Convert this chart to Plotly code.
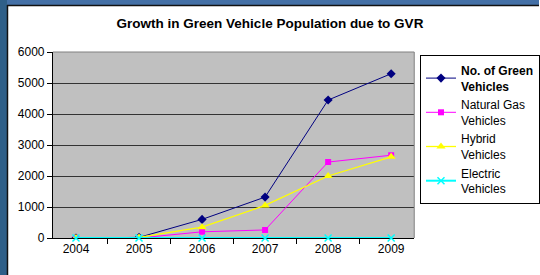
import plotly.graph_objects as go

years = ["2004", "2005", "2006", "2007", "2008", "2009"]
total = [0, 20, 600, 1320, 4450, 5300]
natural_gas = [0, 0, 200, 260, 2450, 2670]
hybrid = [0, 20, 350, 1050, 2000, 2620]
electric = [0, 0, 0, 0, 0, 0]
y_ticks = [0, 1000, 2000, 3000, 4000, 5000, 6000]

W, H = 540, 275
PL, PR, PT, PB = 53, 415, 52, 238  # plot area in pixels


def px(x):
    return x / W


def py(y):
    return 1 - y / H


fig = go.Figure()
fig.add_trace(go.Scatter(x=years, y=total, mode="lines+markers",
                         name="<b>No. of Green<br>Vehicles</b>",
                         line=dict(color="#000080", width=1),
                         marker=dict(symbol="diamond", size=7, color="#000080")))
fig.add_trace(go.Scatter(x=years, y=natural_gas, mode="lines+markers",
                         name="Natural Gas<br>Vehicles",
                         line=dict(color="#FF00FF", width=1),
                         marker=dict(symbol="square", size=6, color="#FF00FF")))
fig.add_trace(go.Scatter(x=years, y=hybrid, mode="lines+markers",
                         name="Hybrid<br>Vehicles",
                         line=dict(color="#FFFF00", width=1.3),
                         marker=dict(symbol="triangle-up", size=8, color="#FFFF00")))
fig.add_trace(go.Scatter(x=years, y=electric, mode="lines+markers",
                         name="Electric<br>Vehicles", cliponaxis=False,
                         line=dict(color="#00FFFF", width=2),
                         marker=dict(symbol="x-thin", size=7,
                                     line=dict(color="#00FFFF", width=1.5))))

shapes = [
    # blue background strips
    dict(type="rect", xref="paper", yref="paper", x0=0, x1=1, y0=py(0), y1=py(5),
         fillcolor="#4470A6", line=dict(width=0), layer="below"),
    dict(type="rect", xref="paper", yref="paper", x0=0, x1=px(7), y0=0, y1=1,
         fillcolor="#2F5F88", line=dict(width=0), layer="below"),
    # panel border
    dict(type="line", xref="paper", yref="paper", x0=px(7), x1=1, y0=py(5.5), y1=py(5.5),
         line=dict(color="#111111", width=1.5)),
    dict(type="line", xref="paper", yref="paper", x0=px(7.5), x1=px(7.5), y0=0, y1=py(5),
         line=dict(color="#111111", width=1.5)),
    # plot area top/right gray border
    dict(type="line", xref="paper", yref="paper", x0=px(PL), x1=px(PR), y0=py(PT), y1=py(PT),
         line=dict(color="#808080", width=1)),
    dict(type="line", xref="paper", yref="paper", x0=px(PR), x1=px(PR), y0=py(PB), y1=py(PT),
         line=dict(color="#808080", width=1)),
]

fig.update_layout(
    template="none",
    width=W, height=H,
    margin=dict(l=0, r=0, t=0, b=0, pad=0),
    paper_bgcolor="white",
    plot_bgcolor="#C0C0C0",
    font=dict(family="Liberation Sans, Arial, sans-serif", size=12, color="black"),
    title=dict(text="<b>Growth in Green Vehicle Population due to GVR</b>",
               x=0.5, xref="container", xanchor="center",
               y=1 - 23 / H, yref="container", yanchor="middle",
               font=dict(size=13.5, color="black")),
    showlegend=True,
    legend=dict(x=px(421), y=py(55), xanchor="left", yanchor="top",
                bordercolor="black", borderwidth=1, bgcolor="white",
                font=dict(size=12), tracegroupgap=0, itemwidth=30),
    shapes=shapes,
    xaxis=dict(domain=[px(PL), px(PR)], type="category", tickson="boundaries",
               ticks="outside", ticklen=5, tickcolor="black", tickwidth=1,
               showline=True, linecolor="black", linewidth=1, automargin=False,
               layer="below traces",
               showgrid=False, zeroline=False, fixedrange=True),
    yaxis=dict(domain=[py(PB), py(PT)], range=[0, 6000], tickvals=y_ticks,
               ticks="outside", ticklen=5, tickcolor="black", tickwidth=1,
               showline=True, linecolor="black", linewidth=1, automargin=False,
               layer="below traces",
               showgrid=True, gridcolor="#333333", gridwidth=1, zeroline=False,
               fixedrange=True),
)

fig.write_html("out.html", config={"displayModeBar": False},
               post_script="document.body.style.margin='0';document.body.style.overflow='hidden';")
